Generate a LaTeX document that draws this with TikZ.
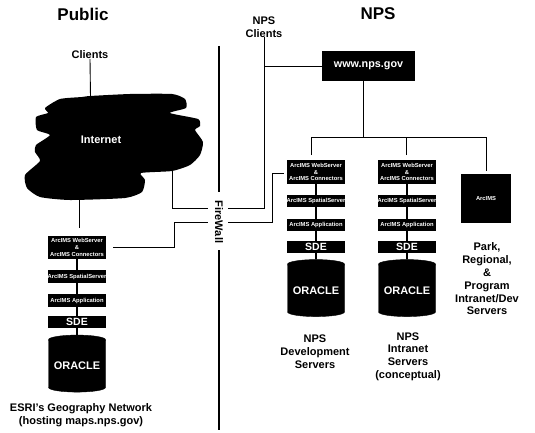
\documentclass[tikz,border=0pt]{standalone}
\usepackage{fontspec}
\setmainfont{Liberation Sans}
\usetikzlibrary{shapes.geometric}
\begin{document}
\begin{tikzpicture}[x=1pt, y=-1pt,
    txt/.style={font=\bfseries\fontsize{11}{12.8}\selectfont, align=center, inner sep=0pt},
    head/.style={font=\bfseries\fontsize{17}{20}\selectfont, inner sep=0pt},
    server/.style={fill=black, text=white, minimum width=58pt, inner sep=0pt, align=center,
        font=\bfseries\fontsize{5.8}{6.8}\selectfont},
    sde/.style={server, minimum height=12pt, font=\bfseries\fontsize{10.5}{12}\selectfont},
    oracle/.style={cylinder, shape border rotate=90, shape aspect=0.2, draw=black, fill=black,
        text=white, inner sep=0pt, minimum width=57pt, minimum height=57pt,
        font=\bfseries\fontsize{11}{13}\selectfont},
    link/.style={line width=0.9pt},
    stack/.style={line width=1.8pt}]

    \useasboundingbox (0,0) rectangle (535,433);

    % Headings
    \node[head] (public) at (83,14) {Public};
    \node[head] (nps) at (378,14) {NPS};

    % Firewall
    \node[txt, rotate=-90] (firewall) at (219,222) {FireWall};
    \coordinate (walltop) at (219,46);
    \coordinate (wallbottom) at (219,430);
    \draw[line width=2pt] (walltop) -- (219,192);
    \draw[line width=2pt] (219,250) -- (wallbottom);

    % Internet cloud
    \fill plot[smooth cycle, tension=0.35] coordinates {
        (45,108) (60,99) (82,97) (90,96) (130,94) (172,94) (185,99) (186,108) (170,113)
        (198,119) (200,126) (195,130) (203,142) (200,155) (190,165) (172,171) (141,173)
        (145,180) (142,192) (125,198) (70,200) (40,197) (27,188) (25,175) (40,161)
        (35,152) (36,145) (50,135) (37,130) (36,117) (48,113)};
    \node[txt, text=white] (internet) at (101,140) {Internet};

    % Public side
    \node[txt] (clients) at (90,55) {Clients};
    \coordinate (cloudtop) at (90.5,97);
    \coordinate (cloudbottom) at (79,199);
    \coordinate (cloudright) at (172,170);
    \coordinate (pubdrop) at (79,228);
    \draw[link] (clients.south) -- (cloudtop);
    \draw[link] (cloudbottom) -- (pubdrop);

    \node[server, minimum height=23pt] (pubweb) at (77,247.5) {ArcIMS WebServer\\\&\\ArcIMS Connectors};
    \node[server, minimum height=13pt] (pubspatial) at (77,276.5) {ArcIMS SpatialServer};
    \node[server, minimum height=13pt] (pubapp) at (77,300.5) {ArcIMS Application};
    \node[sde] (pubsde) at (77,322) {SDE};
    \node[oracle] (puboracle) at (77,366) {ORACLE};
    \draw[stack] (pubweb) -- (pubspatial);
    \draw[stack] (pubspatial) -- (pubapp);
    \draw[stack] (pubapp) -- (pubsde);
    \draw[stack] (pubsde) -- (puboracle);
    \node[txt, font=\bfseries\fontsize{11}{13}\selectfont] (esri) at (81,415.5) {ESRI's Geography Network\\(hosting maps.nps.gov)};

    % NPS side
    \node[txt] (npsclients) at (264,27) {NPS\\Clients};
    \node[fill=black, text=white, minimum width=93pt, minimum height=30pt, inner sep=0pt,
        font=\bfseries\fontsize{10.8}{12}\selectfont] (www) at (368.5,66) {www.nps.gov};

    \node[server, minimum height=24pt] (devweb) at (316,172) {ArcIMS WebServer\\\&\\ArcIMS Connectors};
    \node[server, minimum height=12pt] (devspatial) at (316,201) {ArcIMS SpatialServer};
    \node[server, minimum height=12pt] (devapp) at (316,225) {ArcIMS Application};
    \node[sde] (devsde) at (316,247) {SDE};
    \node[oracle] (devoracle) at (316,290.5) {ORACLE};
    \draw[stack] (devweb) -- (devspatial);
    \draw[stack] (devspatial) -- (devapp);
    \draw[stack] (devapp) -- (devsde);
    \draw[stack] (devsde) -- (devoracle);

    \node[server, minimum height=24pt] (intraweb) at (407,172) {ArcIMS WebServer\\\&\\ArcIMS Connectors};
    \node[server, minimum height=12pt] (intraspatial) at (407,201) {ArcIMS SpatialServer};
    \node[server, minimum height=12pt] (intraapp) at (407,225) {ArcIMS Application};
    \node[sde] (intrasde) at (407,247) {SDE};
    \node[oracle] (intraoracle) at (407,290.5) {ORACLE};
    \draw[stack] (intraweb) -- (intraspatial);
    \draw[stack] (intraspatial) -- (intraapp);
    \draw[stack] (intraapp) -- (intrasde);
    \draw[stack] (intrasde) -- (intraoracle);

    \node[server, minimum width=50pt, minimum height=49pt] (park) at (486,198.5) {ArcIMS};

    \node[txt] (devlabel) at (315,352) {NPS\\Development\\Servers};
    \node[txt] (intralabel) at (408,356.5) {NPS\hspace{10pt}\\Intranet\hspace{3pt}\\Servers\hspace{3pt}\\(conceptual)};
    \node[txt] (parklabel) at (487,279) {Park,\hspace{7pt}\\Regional,\hspace{3pt}\\\&\hspace{10pt}\\Program\\Intranet/Dev\\Servers};

    % Links to www
    \coordinate (wwwfoot) at (363,81);
    \coordinate (bus) at (363,137);
    \coordinate (devdrop) at (311,155);
    \coordinate (intradrop) at (406,155);
    \coordinate (parkdrop) at (486,171);
    \draw[link] (npsclients.south |- www.west) -- (www.west);
    \draw[link] (wwwfoot) -- (bus);
    \draw[link] (devdrop) |- (parkdrop |- bus) -- (parkdrop);
    \draw[link] (intradrop) -- (intradrop |- bus);

    % Links through the firewall
    \coordinate (upperleft) at (208,208);
    \coordinate (upperright) at (228,208);
    \coordinate (lowerleft) at (208,222);
    \coordinate (lowerright) at (228,222);
    \coordinate (pubout) at (113,247);
    \coordinate (pubbend) at (174,222);
    \coordinate (devbend) at (272,173);
    \coordinate (devin) at (284,173);
    \draw[link] (cloudright) |- (upperleft);
    \draw[link] (upperright) -| (npsclients.south);
    \draw[link] (pubout) -| (pubbend) -- (lowerleft);
    \draw[link] (lowerright) -| (devbend) -- (devin);

\end{tikzpicture}
\end{document}
